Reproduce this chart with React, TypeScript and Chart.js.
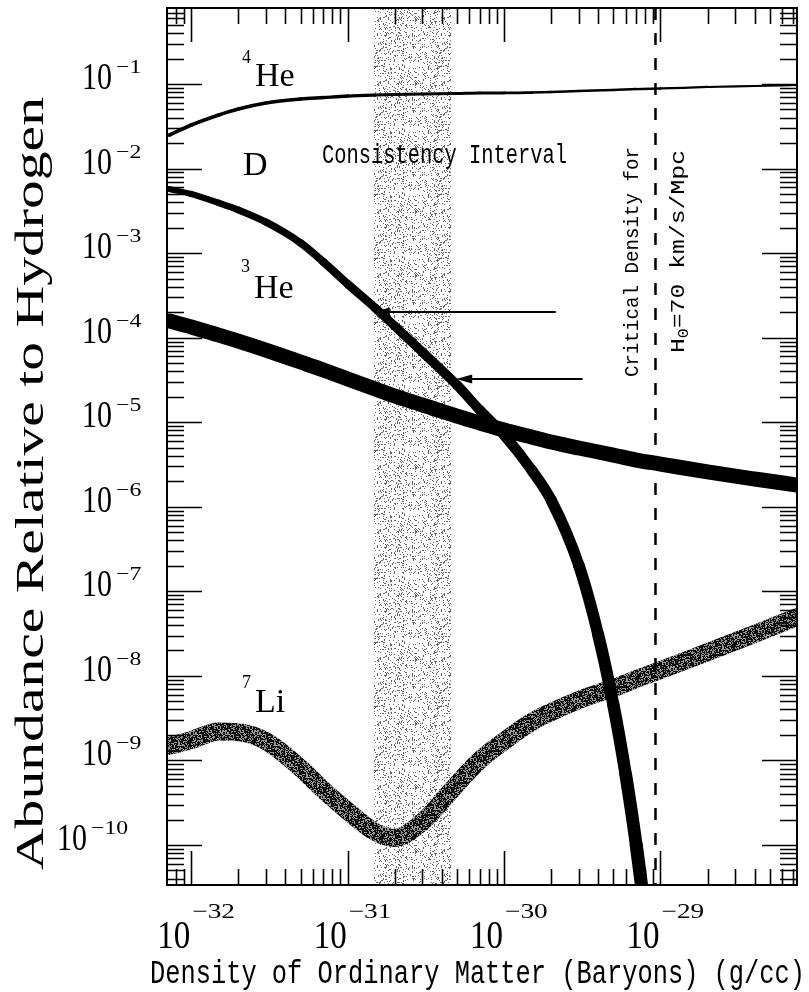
import React, { useEffect, useRef } from "react";
import { Chart, registerables } from "chart.js";

Chart.register(...registerables);

// Baryon density (g/cc) at which the 4He, 3He and 7Li abundances are tabulated
const densityGrid = [
  7.25e-33, 1e-32, 1.5e-32, 2e-32, 3e-32, 5e-32, 7e-32,
  1e-31, 1.5e-31, 2e-31, 3e-31, 5e-31, 7e-31,
  1e-30, 1.5e-30, 2e-30, 3e-30, 5e-30, 7e-30,
  1e-29, 2e-29, 4e-29, 7.46e-29,
];

const helium4 = [
  0.0249, 0.0327, 0.043, 0.0506, 0.0596, 0.0665, 0.0692,
  0.0721, 0.0741, 0.0751, 0.0762, 0.0773, 0.0783,
  0.0783, 0.0793, 0.0804, 0.0826, 0.0849, 0.0872,
  0.0885, 0.0922, 0.0947, 0.0973,
];

const helium3 = [
  1.57e-4, 1.34e-4, 1.07e-4, 9.12e-5, 7.14e-5, 5.15e-5, 4.14e-5,
  3.24e-5, 2.47e-5, 2.04e-5, 1.6e-5, 1.18e-5, 9.79e-6,
  8.09e-6, 6.68e-6, 5.83e-6, 4.95e-6, 4.09e-6, 3.57e-6,
  3.2e-6, 2.58e-6, 2.13e-6, 1.81e-6,
];

const lithium7 = [
  1.48e-9, 1.74e-9, 2.2e-9, 2.16e-9, 1.69e-9, 8.11e-10, 4.45e-10,
  2.52e-10, 1.42e-10, 1.21e-10, 1.87e-10, 5.25e-10, 1.01e-9,
  1.69e-9, 2.84e-9, 3.73e-9, 5.18e-9, 7.18e-9, 9.17e-9,
  1.17e-8, 1.91e-8, 3.13e-8, 4.97e-8,
];

// Deuterium drops out through the bottom of the plot, so it has its own samples
const deuteriumDensity = [
  7.25e-33, 1e-32, 1.5e-32, 2e-32, 3e-32, 5e-32, 7e-32,
  1e-31, 1.5e-31, 2e-31, 3e-31, 5e-31, 7e-31,
  1e-30, 1.5e-30, 2e-30, 3e-30, 4e-30, 5e-30, 6e-30, 7e-30, 8e-30,
];
const deuterium = [
  5.73e-3, 5.0e-3, 3.92e-3, 3.24e-3, 2.33e-3, 1.32e-3, 7.85e-4,
  4.31e-4, 2.24e-4, 1.37e-4, 6.77e-5, 2.75e-5, 1.39e-5,
  7.06e-6, 2.72e-6, 1.2e-6, 2.05e-7, 3.04e-8, 4.52e-9, 6.71e-10, 9.97e-11, 1.48e-11,
];

// Axis extent
const xMin = 7.25e-33;
const xMax = 7.46e-29;
const yMin = 3.36e-11;
const yMax = 0.7925;

const xTickExponents = [-32, -31, -30, -29];
const yTickExponents = [-1, -2, -3, -4, -5, -6, -7, -8, -9, -10];

// Shaded range of densities consistent with all light elements
const consistencyInterval = [1.47e-31, 4.59e-31];
// Critical density for H0 = 70 km/s/Mpc
const criticalDensity = 9.29e-30;

// Measured D/H values, each marked with an arrow onto the deuterium curve
const measuredDH = [2.01e-4, 3.24e-5];
const arrowTail = [2.14e-30, 3.18e-30];
const arrowTip = [1.47e-31, 4.94e-31];

const SERIF = "'Liberation Serif'";
const MONO = "'Liberation Mono'";

function hash01(x: number, y: number, seed: number) {
  let h = (Math.imul(x, 374761393) + Math.imul(y, 668265263) + Math.imul(seed, 1442695041)) | 0;
  h = Math.imul(h ^ (h >>> 13), 1274126177);
  h ^= h >>> 16;
  return (h >>> 0) / 4294967296;
}

// Print-style stipple texture
function stipple(
  ctx: CanvasRenderingContext2D,
  size: number,
  coverage: number,
  seed: number,
  dark: number,
  light: number
) {
  const c = document.createElement("canvas");
  c.width = size;
  c.height = size;
  const g = c.getContext("2d")!;
  const img = g.createImageData(size, size);
  for (let j = 0; j < size; j++) {
    for (let i = 0; i < size; i++) {
      const v = hash01(i, j, seed) < coverage ? dark : light;
      const k = (j * size + i) * 4;
      img.data[k] = v;
      img.data[k + 1] = v;
      img.data[k + 2] = v;
      img.data[k + 3] = 255;
    }
  }
  g.putImageData(img, 0, 0);
  return ctx.createPattern(c, "repeat")!;
}

type Align = "left" | "right" | "center";

function drawText(
  ctx: CanvasRenderingContext2D,
  text: string,
  x: number,
  y: number,
  font: string,
  opts: { width?: number; sx?: number; sy?: number; align?: Align } = {}
) {
  ctx.save();
  ctx.font = font;
  ctx.textAlign = "left";
  ctx.textBaseline = "alphabetic";
  const w = ctx.measureText(text).width;
  const sx = opts.width ? opts.width / w : opts.sx ?? 1;
  const sy = opts.sy ?? 1;
  const tw = w * sx;
  let x0 = x;
  if (opts.align === "center") x0 = x - tw / 2;
  else if (opts.align === "right") x0 = x - tw;
  ctx.translate(x0, y);
  ctx.scale(sx, sy);
  ctx.fillText(text, 0, 0);
  ctx.restore();
}

function pts(xs: number[], ys: number[]) {
  return ys.map((v, i) => ({ x: xs[i], y: v }));
}

export default function App() {
  const ref = useRef<HTMLCanvasElement>(null);

  useEffect(() => {
    const canvas = ref.current!;
    const c2d = canvas.getContext("2d")!;
    const bandFill = stipple(c2d, 64, 0.15, 7, 100, 255);
    const lithiumFill = stipple(c2d, 32, 0.68, 3, 15, 150);

    const decor = {
      id: "decor",
      beforeDatasetsDraw(chart: any) {
        const { ctx, chartArea: a, scales } = chart;
        const x0 = scales.x.getPixelForValue(consistencyInterval[0]);
        const x1 = scales.x.getPixelForValue(consistencyInterval[1]);
        ctx.save();
        ctx.fillStyle = bandFill;
        ctx.fillRect(x0, a.top, x1 - x0, a.bottom - a.top);
        ctx.restore();
      },
      afterDatasetsDraw(chart: any) {
        const { ctx, chartArea: a, scales } = chart;
        const sx = scales.x;
        const sy = scales.y;
        ctx.save();

        // critical density marker
        const xc = sx.getPixelForValue(criticalDensity);
        ctx.strokeStyle = "#000";
        ctx.lineWidth = 2.5;
        ctx.setLineDash([12, 13]);
        ctx.beginPath();
        ctx.moveTo(xc, a.top);
        ctx.lineTo(xc, a.bottom);
        ctx.stroke();
        ctx.setLineDash([]);

        // D/H measurement arrows
        ctx.fillStyle = "#000";
        measuredDH.forEach((v, i) => {
          const yy = sy.getPixelForValue(v);
          const xt = sx.getPixelForValue(arrowTail[i]);
          const xh = sx.getPixelForValue(arrowTip[i]);
          ctx.lineWidth = 2;
          ctx.beginPath();
          ctx.moveTo(xt, yy);
          ctx.lineTo(xh + 12, yy);
          ctx.stroke();
          ctx.beginPath();
          ctx.moveTo(xh, yy);
          ctx.lineTo(xh + 16, yy - 4.5);
          ctx.lineTo(xh + 16, yy + 4.5);
          ctx.closePath();
          ctx.fill();
        });

        // frame
        ctx.lineWidth = 2;
        ctx.strokeRect(a.left, a.top, a.right - a.left, a.bottom - a.top);

        // inward log ticks on all four sides
        ctx.lineWidth = 1.6;
        ctx.beginPath();
        for (let e = -34; e <= -27; e++) {
          for (let m = 1; m <= 9; m++) {
            const v = m * Math.pow(10, e);
            if (v < xMin || v > xMax) continue;
            const px = Math.round(sx.getPixelForValue(v)) + 0.5;
            const len = m === 1 ? 34 : 16;
            ctx.moveTo(px, a.bottom);
            ctx.lineTo(px, a.bottom - len);
            ctx.moveTo(px, a.top);
            ctx.lineTo(px, a.top + len);
          }
        }
        for (let e = -12; e <= 0; e++) {
          for (let m = 1; m <= 9; m++) {
            const v = m * Math.pow(10, e);
            if (v < yMin || v > yMax) continue;
            const py = Math.round(sy.getPixelForValue(v)) + 0.5;
            const len = m === 1 ? 35 : 17;
            ctx.moveTo(a.left, py);
            ctx.lineTo(a.left + len, py);
            ctx.moveTo(a.right, py);
            ctx.lineTo(a.right - len, py);
          }
        }
        ctx.stroke();
        ctx.restore();
      },
      afterDraw(chart: any) {
        const { ctx, scales } = chart;
        const sx = scales.x;
        const sy = scales.y;
        ctx.save();
        ctx.fillStyle = "#000";

        // x tick labels
        xTickExponents.forEach((e) => {
          const px = sx.getPixelForValue(Math.pow(10, e));
          drawText(ctx, "10", px - 1, 948, `40px ${SERIF}`, { width: 33, align: "right" });
          drawText(ctx, "\u2212" + Math.abs(e), px + 1, 918, `21px ${SERIF}`, { sx: 1.3 });
        });

        // y tick labels
        yTickExponents.forEach((e) => {
          const py = sy.getPixelForValue(Math.pow(10, e));
          const exp = "\u2212" + Math.abs(e);
          const xr = exp.length > 2 ? 87 : 112;
          drawText(ctx, "10", xr, py + 5, `38px ${SERIF}`, { width: 30, align: "right" });
          drawText(ctx, exp, xr + 4, py - 11, `19px ${SERIF}`, { sx: 1.25 });
        });

        // axis titles
        drawText(ctx, "Density of Ordinary Matter (Baryons) (g/cc)", 150, 983, `33px ${MONO}`, {
          width: 655,
        });
        ctx.save();
        ctx.translate(43, 483.5);
        ctx.rotate(-Math.PI / 2);
        drawText(ctx, "Abundance Relative to Hydrogen", 0, 0, `41px ${SERIF}`, {
          width: 773,
          align: "center",
        });
        ctx.restore();

        // curve labels
        drawText(ctx, "4", 242, 63, `18px ${SERIF}`);
        drawText(ctx, "He", 255, 86, `34px ${SERIF}`);
        drawText(ctx, "D", 243, 175, `34px ${SERIF}`);
        drawText(ctx, "3", 241, 272, `18px ${SERIF}`);
        drawText(ctx, "He", 254, 298, `34px ${SERIF}`);
        drawText(ctx, "7", 242, 688, `18px ${SERIF}`);
        drawText(ctx, "Li", 255, 712, `34px ${SERIF}`);

        drawText(ctx, "Consistency Interval", 322, 163, `27px ${MONO}`, { width: 245 });

        // critical density annotation, reading upward
        ctx.save();
        ctx.translate(638, 262);
        ctx.rotate(-Math.PI / 2);
        drawText(ctx, "Critical Density for", 0, 0, `21px ${MONO}`, { width: 230, align: "center" });
        ctx.restore();

        ctx.save();
        ctx.translate(684, 251.5);
        ctx.rotate(-Math.PI / 2);
        ctx.font = `21px ${MONO}`;
        const wH = ctx.measureText("H").width;
        const rest = "=70 km/s/Mpc";
        const wR = ctx.measureText(rest).width;
        ctx.font = `14px ${MONO}`;
        const w0 = ctx.measureText("0").width;
        const total = wH + w0 + wR;
        ctx.scale(203 / total, 1);
        const xs = -total / 2;
        ctx.textBaseline = "alphabetic";
        ctx.font = `21px ${MONO}`;
        ctx.fillText("H", xs, 0);
        ctx.font = `14px ${MONO}`;
        ctx.fillText("0", xs + wH, 4);
        ctx.font = `21px ${MONO}`;
        ctx.fillText(rest, xs + wH + w0, 0);
        ctx.restore();

        ctx.restore();
      },
    };

    const nD = deuterium.length;
    const nHe = helium4.length;

    const chart = new Chart(canvas, {
      type: "line",
      data: {
        datasets: [
          {
            label: "4He",
            data: pts(densityGrid, helium4),
            borderColor: "#000",
            borderWidth: 3,
            segment: {
              borderWidth: (c: any) => 3.8 - 1.8 * (c.p0DataIndex / (nHe - 1)),
            },
          },
          {
            label: "D",
            data: pts(deuteriumDensity, deuterium),
            borderColor: "#000",
            borderWidth: 8,
            segment: {
              borderWidth: (c: any) => 6 + 7.5 * (c.p0DataIndex / (nD - 1)),
            },
          },
          {
            label: "3He",
            data: pts(densityGrid, helium3),
            borderColor: "#000",
            borderWidth: 15,
          },
          {
            label: "7Li",
            data: pts(densityGrid, lithium7),
            borderColor: lithiumFill as any,
            borderWidth: 18,
          },
        ],
      },
      options: {
        responsive: false,
        animation: false,
        layout: { padding: { left: 167, top: 8, right: 12, bottom: 107 } },
        elements: {
          point: { radius: 0, hoverRadius: 0 },
          line: {
            cubicInterpolationMode: "monotone",
            borderCapStyle: "round",
            borderJoinStyle: "round",
            fill: false,
          },
        },
        datasets: { line: { clip: 0 } as any },
        plugins: { legend: { display: false }, tooltip: { enabled: false } },
        events: [],
        scales: {
          x: { type: "logarithmic", min: xMin, max: xMax, display: false },
          y: { type: "logarithmic", min: yMin, max: yMax, display: false },
        },
      },
      plugins: [decor],
    });

    return () => chart.destroy();
  }, []);

  return (
    <div style={{ position: "absolute", left: 0, top: 0, width: 809, height: 992, background: "#fff" }}>
      <canvas ref={ref} width={809} height={992} style={{ display: "block" }} />
    </div>
  );
}
